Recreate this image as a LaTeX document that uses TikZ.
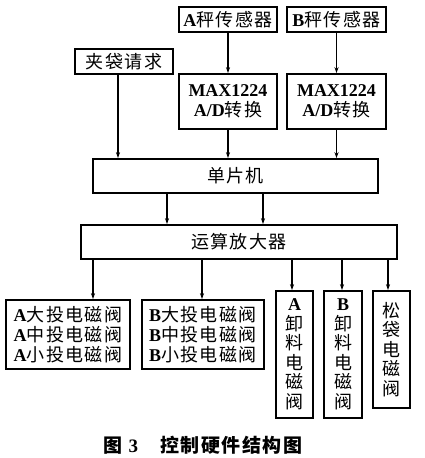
\documentclass[tikz,border=0pt]{standalone}
\usepackage{fontspec}
\setmainfont{Liberation Serif}
\newfontfamily\cjk{Noto Sans CJK SC}[LetterSpace=8]
\usetikzlibrary{arrows.meta}
\newcommand{\zh}[1]{{\mdseries\cjk #1}}
\tikzset{
    box/.style={draw, line width=1.6pt, inner sep=0pt, align=center, font=\fontsize{18}{20}\selectfont\bfseries},
    arr/.style={-{Stealth[length=6pt,width=4pt]}, line width=1.1pt}
}
\begin{document}
\begin{tikzpicture}[x=1pt, y=-1pt]
    \useasboundingbox (0,0) rectangle (425,458);

    % Eingaenge
    \node[box, minimum width=98, minimum height=25] (sa) at (228,19.5) {A\zh{秤传感器}};
    \node[box, minimum width=99, minimum height=25] (sb) at (336.5,19.5) {B\zh{秤传感器}};
    \node[box, minimum width=98, minimum height=25] (jd) at (124,61.5) {\zh{夹袋请求}};
    \node[box, minimum width=98, minimum height=55] (ada) at (228,101.5) {MAX1224\\A/D\zh{转换}};
    \node[box, minimum width=99, minimum height=55] (adb) at (336.5,101.5) {MAX1224\\A/D\zh{转换}};

    % Mitte
    \node[box, minimum width=285, minimum height=34] (mcu) at (235.5,176) {\zh{单片机}};
    \node[box, minimum width=316, minimum height=34] (amp) at (239,242) {\zh{运算放大器}};

    % Ventile
    \node[box, minimum width=124, minimum height=69] (va) at (68,334.5) {A\zh{大投电磁阀}\\A\zh{中投电磁阀}\\A\zh{小投电磁阀}};
    \node[box, minimum width=122, minimum height=69] (vb) at (203,334.5) {B\zh{大投电磁阀}\\B\zh{中投电磁阀}\\B\zh{小投电磁阀}};
    \node[box, minimum width=37, minimum height=127, font=\fontsize{18}{19.5}\selectfont\bfseries] (ua) at (294.5,354.5) {A\\\zh{卸}\\\zh{料}\\\zh{电}\\\zh{磁}\\\zh{阀}};
    \node[box, minimum width=38, minimum height=127, font=\fontsize{18}{19.5}\selectfont\bfseries] (ub) at (343,354.5) {B\\\zh{卸}\\\zh{料}\\\zh{电}\\\zh{磁}\\\zh{阀}};
    \node[box, minimum width=37, minimum height=117, font=\fontsize{18}{19.5}\selectfont\bfseries] (sd) at (391.5,349.5) {\zh{松}\\\zh{袋}\\\zh{电}\\\zh{磁}\\\zh{阀}};

    % Pfeile
    \draw[arr] (sa) -- (ada);
    \draw[arr] (sb) -- (adb);
    \draw[arr] (ada) -- (ada |- mcu.north);
    \draw[arr] (adb) -- (adb |- mcu.north);
    \draw[arr] ([xshift=-6]jd.south) -- ([xshift=-6]jd.south |- mcu.north);
    \foreach \x in {167,263} {
        \coordinate (t) at (\x,0);
        \draw[arr] (mcu.south -| t) -- (amp.north -| t);
    }
    \foreach \n/\x in {va/93, vb/202, ua/292, ub/342, sd/388} {
        \coordinate (t) at (\x,0);
        \draw[arr] (amp.south -| t) -- (\n.north -| t);
    }

    % Bildunterschrift
    \node[font=\fontsize{19}{20}\selectfont\bfseries] (cap) at (203,445) {{\cjk 图}\hspace{6pt}3\hspace{22pt}{\cjk 控制硬件结构图}};
\end{tikzpicture}
\end{document}
